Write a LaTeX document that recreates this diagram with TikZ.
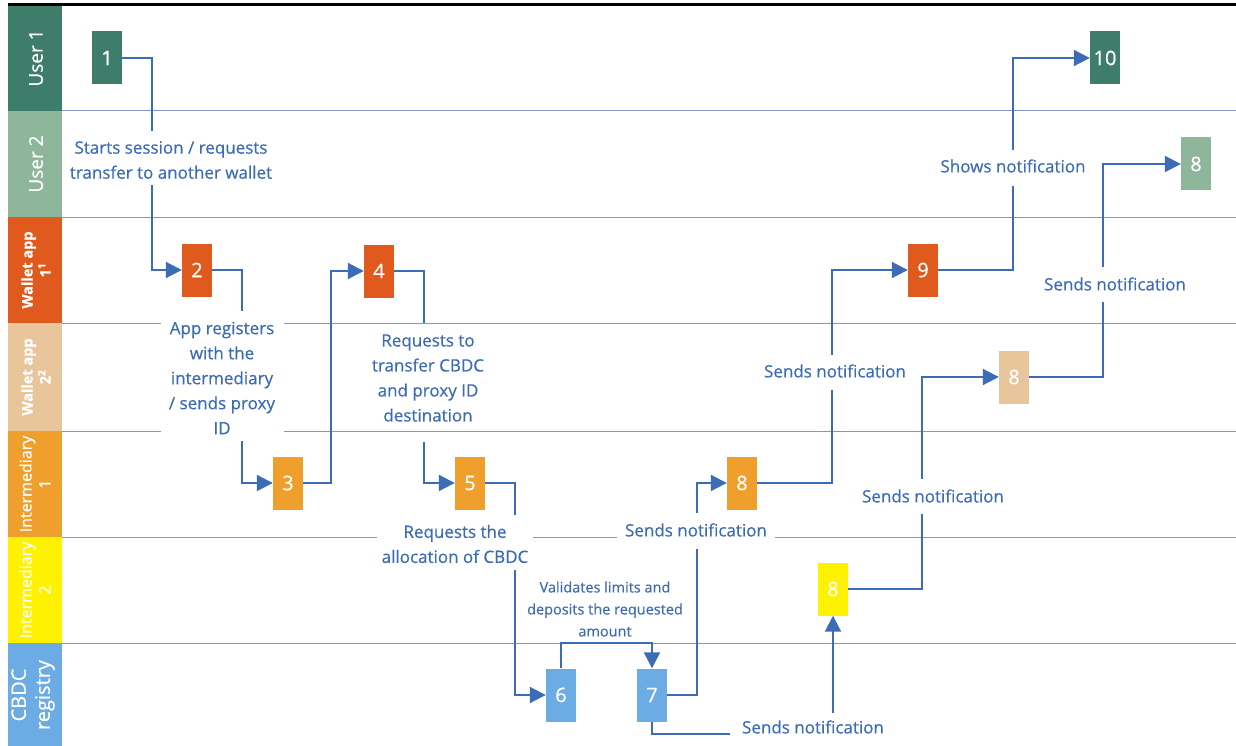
\documentclass[tikz,border=0pt]{standalone}
\usepackage{fontspec}
\setmainfont{Open Sans}[FakeBold=0.5]
\usetikzlibrary{arrows.meta}

% lane colours
\definecolor{cUserA}{RGB}{62,125,106}
\definecolor{cUserB}{RGB}{141,182,155}
\definecolor{cWalletA}{RGB}{224,90,30}
\definecolor{cWalletB}{RGB}{233,197,155}
\definecolor{cInterA}{RGB}{239,160,44}
\definecolor{cInterB}{RGB}{255,242,0}
\definecolor{cRegistry}{RGB}{108,172,228}
% line and text colours
\definecolor{ink}{RGB}{59,108,181}
\definecolor{rule}{RGB}{128,150,205}

\begin{document}
\begin{tikzpicture}[x=1pt,y=-1pt,
  box/.style={minimum width=30pt,minimum height=53pt,inner sep=0pt,text=white,
              font=\fontsize{20}{20}\selectfont},
  conn/.style={draw=ink,line width=2pt},
  arr/.style={conn,-{Triangle[length=16pt,width=16pt]}},
  lbl/.style={text=ink,align=center,inner sep=0pt,font=\fontsize{17}{25}\selectfont},
  small/.style={lbl,font=\fontsize{14.5}{22}\selectfont},
  lanetxt/.style={rotate=90,text=white,align=center,inner sep=0pt},
  lane/.style={draw=rule,line width=1pt}
]
\useasboundingbox (0,0) rectangle (1236,746);

% swimlane header band
\fill[cUserA]    (8,5)   rectangle (62,111);
\fill[cUserB]    (8,111) rectangle (62,217);
\fill[cWalletA]  (8,217) rectangle (62,323);
\fill[cWalletB]  (8,323) rectangle (62,431);
\fill[cInterA]   (8,431) rectangle (62,537);
\fill[cInterB]   (8,537) rectangle (62,643);
\fill[cRegistry] (8,643) rectangle (62,746);
\draw[line width=2.7pt] (8,4.5) -- (1236,4.5);

\node[lanetxt,font=\fontsize{19}{19}\selectfont] (hUserA) at (36,58) {User 1};
\node[lanetxt,font=\fontsize{19}{19}\selectfont] (hUserB) at (36,164) {User 2};
\node[lanetxt,font=\bfseries\fontsize{14.5}{18}\selectfont] (hWalletA) at (36,270) {Wallet app\\1\textsuperscript{1}};
\node[lanetxt,font=\bfseries\fontsize{14.5}{18}\selectfont] (hWalletB) at (36,377) {Wallet app\\2\textsuperscript{2}};
\node[lanetxt,font=\fontsize{16}{19}\selectfont] (hInterA) at (35,484) {Intermediary\\1};
\node[lanetxt,font=\fontsize{16}{19}\selectfont] (hInterB) at (35,590) {Intermediary\\2};
\node[lanetxt,font=\fontsize{20}{24}\selectfont] (hRegistry) at (33,695) {CBDC\\registry};

% lane separators
\foreach \yy in {111,217,323,431,537,643}
  \draw[lane] (62,\yy) -- (1236,\yy);

% process steps
\node[box,fill=cUserA]    (s1)  at (107,58)  {1};
\node[box,fill=cWalletA]  (s2)  at (197,270) {2};
\node[box,fill=cInterA]   (s3)  at (288,483) {3};
\node[box,fill=cWalletA]  (s4)  at (379,271) {4};
\node[box,fill=cInterA]   (s5)  at (470,483) {5};
\node[box,fill=cRegistry] (s6)  at (561,695) {6};
\node[box,fill=cRegistry] (s7)  at (652,695) {7};
\node[box,fill=cInterA]   (s8a) at (742,483) {8};
\node[box,fill=cWalletA]  (s9)  at (923,270) {9};
\node[box,fill=cUserA]    (s10) at (1105,58) {10};
\node[box,fill=cUserB]    (s8g) at (1196,164) {8};
\node[box,fill=cWalletB]  (s8t) at (1014,377) {8};
\node[box,fill=cInterB]   (s8y) at (833,589) {8};

% step descriptions
\node[lbl] (d1) at (171,160) {Starts session / requests\\transfer to another wallet};
\node[lbl,fill=white,minimum width=123pt,minimum height=128pt] (d2) at (222,378)
  {App registers\\with the\\intermediary\\/ sends proxy\\ID};
\node[lbl] (d4) at (428,378) {Requests to\\transfer CBDC\\and proxy ID\\destination};
\node[lbl,fill=white,inner xsep=5pt,inner ysep=3pt] (d5) at (455,544) {Requests the\\allocation of CBDC};
\node[small] (d6) at (605,609) {Validates limits and\\deposits the requested\\amount};
\node[lbl,fill=white,inner xsep=8pt,inner ysep=3pt] (d7) at (696,530) {Sends notification};
\node[lbl] (d78) at (813,727) {Sends notification};
\node[lbl] (d9) at (835,371) {Sends notification};
\node[lbl] (d10) at (1013,166) {Shows notification};
\node[lbl] (d11) at (933,496) {Sends notification};
\node[lbl] (d12) at (1115,284) {Sends notification};

% gaps left open around the descriptions
\coordinate (g1a) at (152,131);   \coordinate (g1b) at (152,185);
\coordinate (g2a) at (242,311);   \coordinate (g2b) at (242,441);
\coordinate (g4a) at (424,323);   \coordinate (g4b) at (424,442);
\coordinate (g5a) at (515,515);   \coordinate (g5b) at (515,570);
\coordinate (g7a) at (697,549);   \coordinate (g7b) at (697,513);
\coordinate (g78a) at (730,734);  \coordinate (g78b) at (833,713);
\coordinate (g9a) at (832,390);   \coordinate (g9b) at (832,355);
\coordinate (g10a) at (1013,186); \coordinate (g10b) at (1013,150);
\coordinate (g11a) at (922,514);  \coordinate (g11b) at (922,479);
\coordinate (g12a) at (1103,302); \coordinate (g12b) at (1103,267);

% flow
\draw[conn] (s1.east) -| (g1a);
\draw[arr]  (g1b) |- (s2.west);
\draw[conn] (s2.east) -| (g2a);
\draw[arr]  (g2b) |- (s3.west);
\draw[arr]  (s3.east) -- ++(28,0) |- (s4.west);
\draw[conn] (s4.east) -| (g4a);
\draw[arr]  (g4b) |- (s5.west);
\draw[conn] (s5.east) -| (g5a);
\draw[arr]  (g5b) |- (s6.west);
\draw[arr]  (s6.north) -- ++(0,-25) -| (s7.north);
\draw[conn] (s7.east) -| (g7a);
\draw[arr]  (g7b) |- (s8a.west);
\draw[conn] (s7.south) |- (g78a);
\draw[arr]  (g78b) -- (s8y.south);
\draw[conn] (s8a.east) -| (g9a);
\draw[arr]  (g9b) |- (s9.west);
\draw[conn] (s9.east) -| (g10a);
\draw[arr]  (g10b) |- (s10.west);
\draw[conn] (s8y.east) -| (g11a);
\draw[arr]  (g11b) |- (s8t.west);
\draw[conn] (s8t.east) -| (g12a);
\draw[arr]  (g12b) |- (s8g.west);
\end{tikzpicture}
\end{document}
